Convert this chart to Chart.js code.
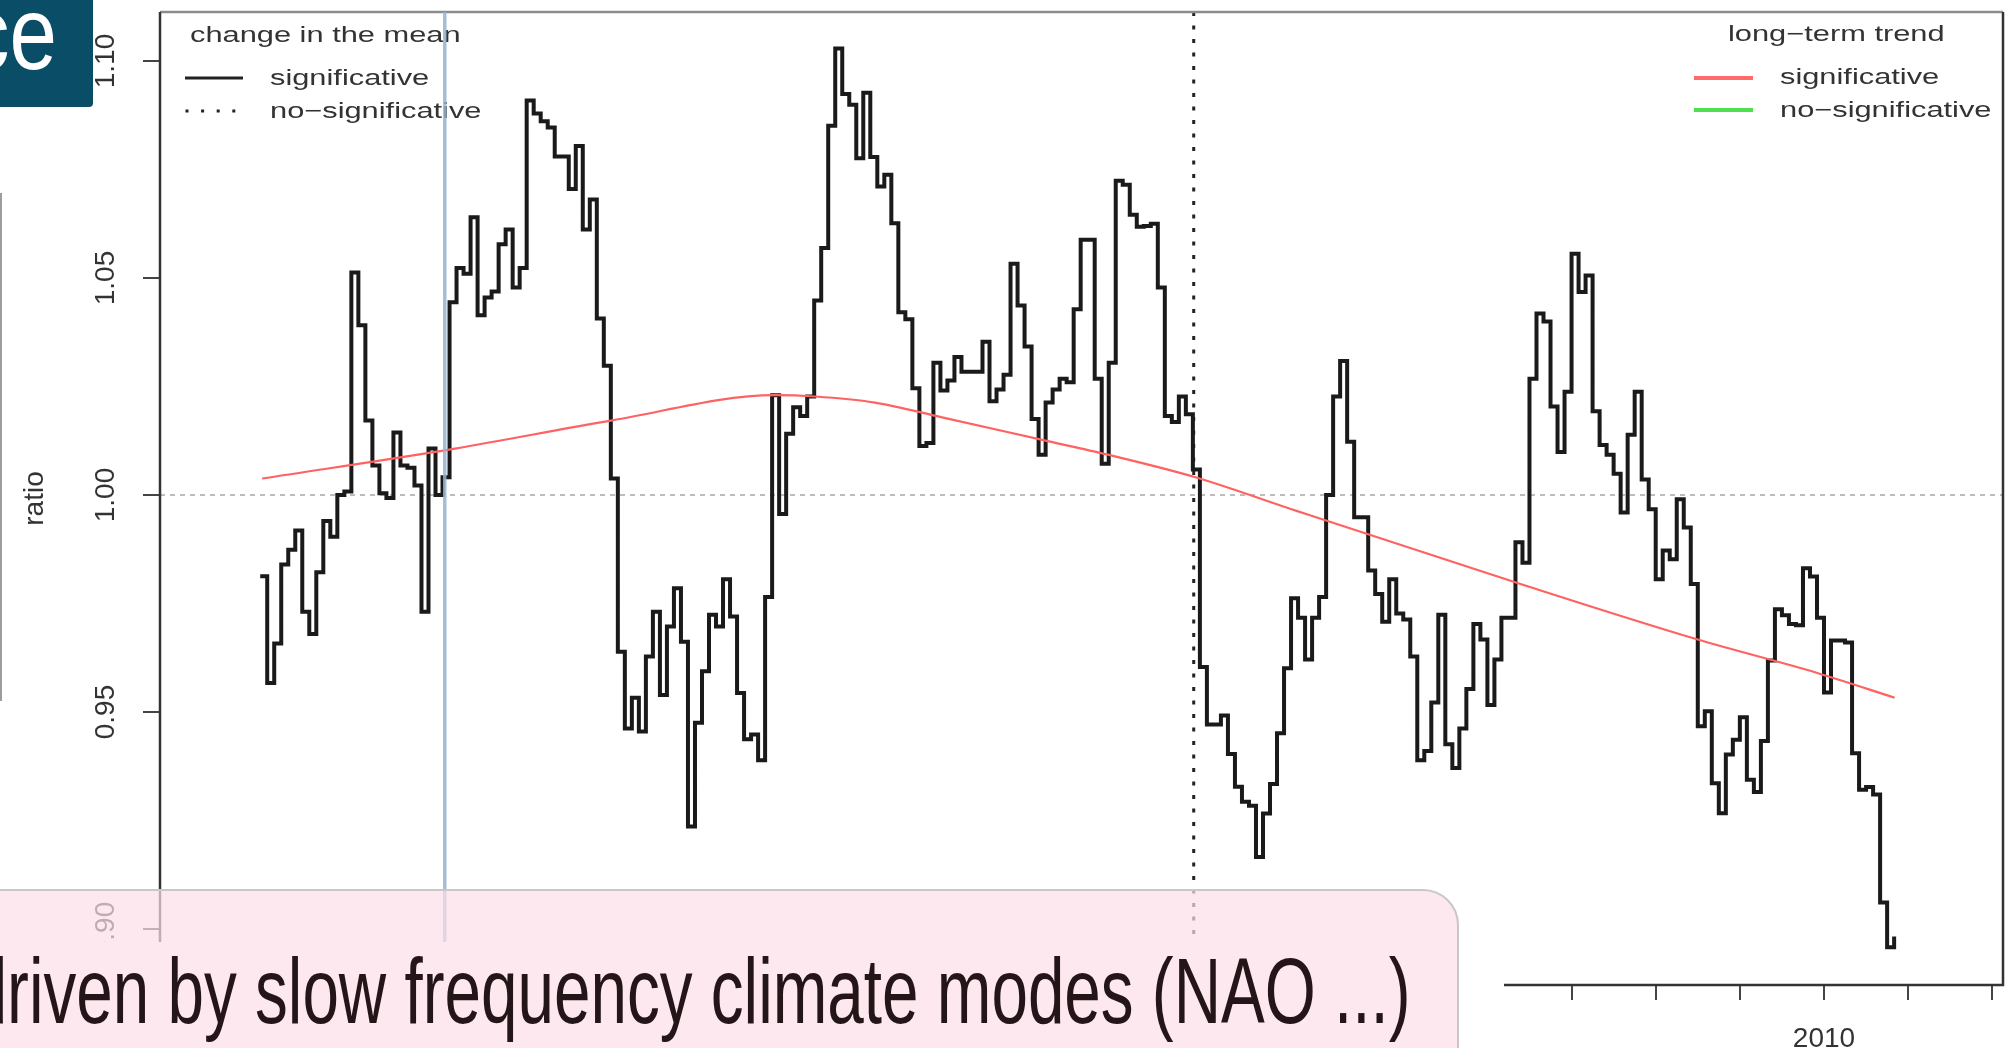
<!DOCTYPE html>
<html>
<head>
<meta charset="utf-8">
<title>ratio</title>
<script src="https://cdn.jsdelivr.net/npm/chart.js@4.4.1/dist/chart.umd.min.js"></script>
<style>
  html, body { margin: 0; padding: 0; background: #fff; overflow: hidden; }
  #stage { position: relative; width: 2012px; height: 1048px; }
  #ratioChart { position: absolute; left: 0; top: 0; }
  .side-rule { position: absolute; left: 0; top: 193px; width: 2px; height: 508px; background: #9d9d9d; }
  .title-tab { position: absolute; left: 0; top: 0; width: 93px; height: 107px; background: #0a4d67;
               border-bottom-right-radius: 4px; overflow: hidden; }
  .title-tab span { position: absolute; right: 36px; top: -19px; color: #fff; white-space: nowrap;
                    font: 104px/1 "Liberation Sans", Arial, sans-serif;
                    transform: scaleX(0.82); transform-origin: right center; }
  .caption-mask { position: absolute; left: 0; top: 942px; width: 1504px; height: 106px; background: #fff; }
  .caption-box { position: absolute; left: -40px; top: 889px; width: 1499px; height: 220px; box-sizing: border-box;
                 border: 2px solid #c8c8c8; border-radius: 36px; background: rgba(251, 222, 231, 0.7); }
  .caption-text { position: absolute; right: 601px; top: 945px; color: #241519; white-space: nowrap;
                  font: 92px/1 "Liberation Sans", Arial, sans-serif;
                  transform: scaleX(0.713); transform-origin: right center; }
</style>
</head>
<body>
<div id="stage">
  <canvas id="ratioChart" width="2012" height="1048"></canvas>
  <div class="side-rule"></div>
  <div class="title-tab"><span>ce</span></div>
  <div class="caption-mask"></div>
  <div class="caption-box"></div>
  <div class="caption-text">driven by slow frequency climate modes (NAO ...)</div>
</div>
<script>
// monthly ratio, June 1991 .. November 2010
const firstMonth = 1991 + 5 / 12
const ratioByMonth = [
  0.9813, 0.9567, 0.9658, 0.9840, 0.9874, 0.9918, 0.9731,                          // 1991
  0.9680, 0.9822, 0.9940, 0.9904, 1.0000, 1.0008, 1.0513, 1.0391, 1.0172, 1.0068, 1.0004, 0.9993, // 1992
  1.0144, 1.0068, 1.0063, 1.0022, 0.9731, 1.0107, 1.0000, 1.0041, 1.0444, 1.0523, 1.0510, 1.0640, // 1993
  1.0414, 1.0455, 1.0469, 1.0578, 1.0612, 1.0478, 1.0523, 1.0909, 1.0879, 1.0861, 1.0847, 1.0780, // 1994
  1.0780, 1.0705, 1.0804, 1.0612, 1.0681, 1.0407, 1.0298, 1.0038, 0.9639, 0.9462, 0.9533, 0.9455, // 1995
  0.9628, 0.9731, 0.9539, 0.9697, 0.9785, 0.9662, 0.9236, 0.9475, 0.9594, 0.9724, 0.9697, 0.9806, // 1996
  0.9720, 0.9544, 0.9437, 0.9448, 0.9389, 0.9765, 1.0230, 0.9956, 1.0141, 1.0202, 1.0182, 1.0227, // 1997
  1.0448, 1.0569, 1.0851, 1.1029, 1.0924, 1.0899, 1.0776, 1.0927, 1.0779, 1.0711, 1.0738, 1.0626, // 1998
  1.0421, 1.0405, 1.0246, 1.0113, 1.0120, 1.0305, 1.0241, 1.0264, 1.0318, 1.0284, 1.0284, 1.0284, // 1999
  1.0353, 1.0216, 1.0243, 1.0277, 1.0533, 1.0437, 1.0342, 1.0175, 1.0093, 1.0213, 1.0243, 1.0268, // 2000
  1.0260, 1.0428, 1.0588, 1.0588, 1.0268, 1.0072, 1.0305, 1.0724, 1.0715, 1.0646, 1.0618, 1.0620, // 2001
  1.0625, 1.0478, 1.0182, 1.0168, 1.0227, 1.0186, 1.0059, 0.9604, 0.9471, 0.9471, 0.9492, 0.9403, // 2002
  0.9328, 0.9293, 0.9284, 0.9166, 0.9266, 0.9334, 0.9451, 0.9601, 0.9762, 0.9717, 0.9621, 0.9717, // 2003
  0.9765, 1.0000, 1.0227, 1.0309, 1.0123, 0.9949, 0.9949, 0.9826, 0.9772, 0.9708, 0.9806, 0.9727, // 2004
  0.9713, 0.9628, 0.9389, 0.9410, 0.9522, 0.9724, 0.9426, 0.9371, 0.9462, 0.9553, 0.9703, 0.9667, // 2005
  0.9516, 0.9621, 0.9717, 0.9717, 0.9891, 0.9844, 1.0268, 1.0418, 1.0400, 1.0204, 1.0099, 1.0238, // 2006
  1.0556, 1.0468, 1.0506, 1.0193, 1.0115, 1.0093, 1.0049, 0.9960, 1.0139, 1.0238, 1.0036, 0.9967, // 2007
  0.9806, 0.9872, 0.9852, 0.9990, 0.9925, 0.9795, 0.9467, 0.9502, 0.9336, 0.9267, 0.9402, 0.9436, // 2008
  0.9488, 0.9344, 0.9316, 0.9433, 0.9619, 0.9737, 0.9723, 0.9703, 0.9700, 0.9831, 0.9812, 0.9717, // 2009
  0.9545, 0.9665, 0.9665, 0.9660, 0.9405, 0.9321, 0.9327, 0.9310, 0.9061, 0.8958, 0.8983          // 2010
]

// long-term trend
const trendYears  = [1991.44, 1993.73, 1995.60, 1997.53, 1998.01, 1998.72, 1999.52, 2000.71,
                     2001.49, 2002.53, 2003.74, 2006.33, 2008.50, 2009.92, 2010.84]
const trendValues = [1.0038, 1.0107, 1.0172, 1.0230, 1.0227, 1.0213, 1.0179, 1.0127,
                     1.0093, 1.0041, 0.9963, 0.9799, 0.9667, 0.9590, 0.9533]

const changeYear = 2002.51   // change in the mean (no-significative)
const markerYear = 1993.61   // highlighted date

const xTickYears = [1991, 1992, 1993, 1994, 1995, 1996, 1997, 1998, 1999, 2000, 2001,
                    2002, 2003, 2004, 2005, 2006, 2007, 2008, 2009, 2010, 2011, 2012]
const xLabelYears = [1995, 2000, 2005, 2010]
const yTickValues = [0.90, 0.95, 1.00, 1.05, 1.10]

Chart.defaults.font.family = '"Liberation Sans", Arial, sans-serif'

// legend text in the plot is set wide, like the R device output
function wideText(ctx, text, x, y) {
    ctx.save()
    ctx.translate(x, y)
    ctx.scale(1.4, 1)
    ctx.fillText(text, 0, 0)
    ctx.restore()
}

function sample(ctx, x1, x2, y, color, width, dash) {
    ctx.save()
    ctx.strokeStyle = color
    ctx.lineWidth = width
    ctx.setLineDash(dash || [])
    ctx.beginPath()
    ctx.moveTo(x1, y)
    ctx.lineTo(x2, y)
    ctx.stroke()
    ctx.restore()
}

const plotDecor = {
    id: 'plotDecor',
    beforeDatasetsDraw(chart) {
        const { ctx, chartArea: a, scales: { x, y } } = chart
        ctx.save()
        // ratio = 1 reference
        const y1 = y.getPixelForValue(1)
        ctx.strokeStyle = '#a8a8a8'
        ctx.lineWidth = 1.5
        ctx.setLineDash([5, 5])
        ctx.beginPath()
        ctx.moveTo(a.left, y1)
        ctx.lineTo(a.right, y1)
        ctx.stroke()
        // change point
        const xc = x.getPixelForValue(changeYear)
        ctx.strokeStyle = '#222'
        ctx.lineWidth = 3
        ctx.setLineDash([4, 9.5])
        ctx.beginPath()
        ctx.moveTo(xc, a.top)
        ctx.lineTo(xc, a.bottom)
        ctx.stroke()
        ctx.restore()
    },
    afterDraw(chart) {
        const { ctx, chartArea: a, scales: { x } } = chart
        ctx.save()
        // plot box
        ctx.lineWidth = 2.5
        ctx.strokeStyle = '#8c8c8c'
        ctx.beginPath()
        ctx.moveTo(a.left, a.top)
        ctx.lineTo(a.right, a.top)
        ctx.stroke()
        ctx.strokeStyle = '#333'
        ctx.beginPath()
        ctx.moveTo(a.right, a.top)
        ctx.lineTo(a.right, a.bottom)
        ctx.lineTo(a.left, a.bottom)
        ctx.lineTo(a.left, a.top)
        ctx.stroke()

        // legends
        ctx.fillStyle = '#333'
        ctx.font = '22px "Liberation Sans", Arial, sans-serif'
        ctx.textBaseline = 'middle'
        ctx.textAlign = 'left'
        wideText(ctx, 'change in the mean', 190, 36)
        sample(ctx, 185, 243, 78, '#222', 3)
        wideText(ctx, 'significative', 270, 79)
        sample(ctx, 185.5, 243, 111, '#222', 3, [3, 12.6])
        wideText(ctx, 'no\u2212significative', 270, 112)

        wideText(ctx, 'long\u2212term trend', 1728, 35)
        sample(ctx, 1694, 1753, 78, '#ff6a6a', 4)
        wideText(ctx, 'significative', 1780, 78)
        sample(ctx, 1694, 1753, 110, '#4ee04e', 4)
        wideText(ctx, 'no\u2212significative', 1780, 111)

        // highlighted date
        const xm = x.getPixelForValue(markerYear)
        ctx.strokeStyle = 'rgba(150, 178, 210, 0.85)'
        ctx.lineWidth = 3.5
        ctx.beginPath()
        ctx.moveTo(xm, a.top)
        ctx.lineTo(xm, a.bottom)
        ctx.stroke()
        ctx.restore()
    }
}

const ctx = document.getElementById('ratioChart')

new Chart(ctx, {
    type: 'line',
    data: {
        datasets: [{
            label: 'long-term trend',
            data: trendYears.map((t, i) => ({ x: t, y: trendValues[i] })),
            borderColor: '#ff6262',
            borderWidth: 2.2,
            pointRadius: 0,
            cubicInterpolationMode: 'monotone',
            order: 0
        }, {
            label: 'ratio',
            data: ratioByMonth.map((v, i) => ({ x: firstMonth + i / 12, y: v })),
            borderColor: '#1a1a1a',
            borderWidth: 4,
            borderJoinStyle: 'miter',
            pointRadius: 0,
            stepped: true,
            order: 1
        }]
    },
    options: {
        responsive: false,
        animation: false,
        devicePixelRatio: 1,
        layout: { padding: { top: 12, right: 9, left: 0, bottom: 0 } },
        plugins: { legend: { display: false }, tooltip: { enabled: false } },
        scales: {
            x: {
                type: 'linear',
                min: 1990.226,
                max: 2012.127,
                afterBuildTicks: s => { s.ticks = xTickYears.map(v => ({ value: v })) },
                afterFit: s => { s.height = 63; s.paddingLeft = 0; s.paddingRight = 0 },
                grid: { drawOnChartArea: false, tickLength: 15, color: '#444', lineWidth: 2 },
                border: { display: false },
                ticks: {
                    autoSkip: false,
                    maxRotation: 0,
                    padding: 22,
                    color: '#333',
                    font: { size: 28 },
                    callback: v => xLabelYears.includes(v) ? String(v) : ''
                }
            },
            y: {
                type: 'linear',
                min: 0.8871,
                max: 1.1113,
                afterBuildTicks: s => { s.ticks = yTickValues.map(v => ({ value: v })) },
                afterFit: s => { s.width = 160; s.paddingTop = 0; s.paddingBottom = 0 },
                grid: { drawOnChartArea: false, tickLength: 17, color: '#444', lineWidth: 2 },
                border: { display: false },
                title: { display: true, text: 'ratio', color: '#333', font: { size: 28 }, padding: { top: 18, bottom: 0 } },
                ticks: {
                    autoSkip: false,
                    minRotation: 90,
                    maxRotation: 90,
                    crossAlign: 'center',
                    padding: 9,
                    color: '#333',
                    font: { size: 28 },
                    callback: v => v.toFixed(2)
                }
            }
        }
    },
    plugins: [plotDecor]
})
</script>
</body>
</html>
